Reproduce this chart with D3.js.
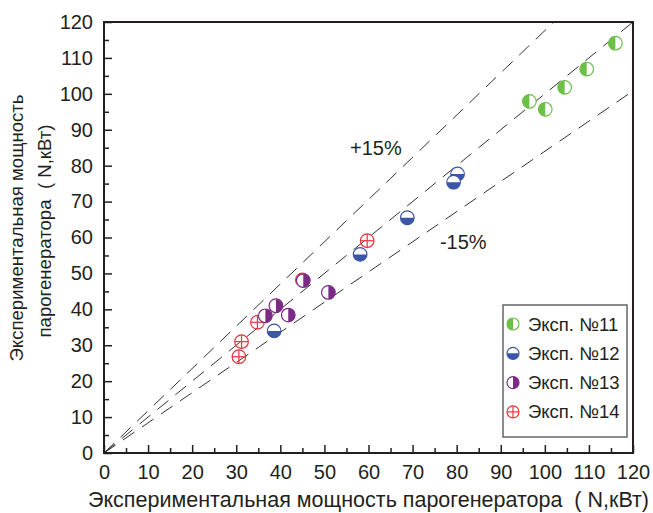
<!DOCTYPE html>
<html><head><meta charset="utf-8">
<script src="https://cdn.jsdelivr.net/npm/d3@7"></script>
<style>body{margin:0;background:#fff}svg{display:block}text{font-family:"Liberation Sans",Arial,sans-serif;fill:#231f20;white-space:pre}</style>
</head><body><svg id="c" width="653" height="513"></svg>
<script>
const seriesNames = ["Эксп. №11","Эксп. №12","Эксп. №13","Эксп. №14"];
const seriesColors = ["#6cbf47","#3b56a6","#7b2a86","#e8343a"];
const seriesStyle = ["left","bottom","right","cross"];
const s11x = [116.0,109.5,104.5,96.5,100.1];
const s11y = [114.1,106.9,101.8,97.9,95.7];
const s12x = [80.2,79.3,68.8,58.1,38.6];
const s12y = [77.7,75.4,65.5,55.3,34.0];
const s13x = [45.2,50.9,39.0,36.6,41.8];
const s13y = [48.0,44.7,41.0,38.2,38.4];
const s14x = [45.0,34.8,31.2,30.6,59.7];
const s14y = [48.2,36.4,31.0,26.8,59.1];
const lineSlopes = [1.176,1.0,0.84];
const xTicks = [0,10,20,30,40,50,60,70,80,90,100,110,120];
const yTicks = [0,10,20,30,40,50,60,70,80,90,100,110,120];
const minorTicks = [5,15,25,35,45,55,65,75,85,95,105,115];
const xTitle = "Экспериментальная мощность парогенератора  ( N,кВт)";
const yTitle1 = "Экспериментальная мощность";
const yTitle2 = "парогенератора  ( N,кВт)";
const labelPlus = "+15%", labelMinus = "-15%";

const svg = d3.select("#c");
const L=104,R=633,T=22,B=453;
const x = d3.scaleLinear().domain([0,120]).range([L,R]);
const y = d3.scaleLinear().domain([0,120]).range([B,T]);

svg.append("clipPath").attr("id","pc").append("rect").attr("x",L).attr("y",T).attr("width",R-L).attr("height",B-T);
svg.append("g").attr("clip-path","url(#pc)").selectAll("line").data(lineSlopes).join("line")
  .attr("x1",x(0)).attr("y1",y(0)).attr("x2",x(120)).attr("y2",k=>y(120*k))
  .attr("stroke","#333").attr("stroke-width",1).attr("stroke-dasharray","14,9");

const fsTick = 20, fsLeg = 18.5, fsTitle = 21.5;
svg.append("g").attr("transform",`translate(0,${B})`)
  .call(d3.axisBottom(x).tickValues(xTicks).tickSizeInner(-8).tickSizeOuter(0).tickPadding(12).tickFormat(d3.format("d")));
svg.append("g").attr("transform",`translate(0,${B})`)
  .call(d3.axisBottom(x).tickValues(minorTicks).tickSizeInner(-5).tickSizeOuter(0).tickFormat(""));
svg.append("g").attr("transform",`translate(${L},0)`)
  .call(d3.axisLeft(y).tickValues(yTicks).tickSizeInner(-8).tickSizeOuter(0).tickPadding(11).tickFormat(d3.format("d")));
svg.append("g").attr("transform",`translate(${L},0)`)
  .call(d3.axisLeft(y).tickValues(minorTicks).tickSizeInner(-5).tickSizeOuter(0).tickFormat(""));
svg.selectAll(".domain").remove();
svg.selectAll(".tick line").attr("stroke","#231f20").attr("stroke-width",1.5);
svg.selectAll(".tick text").attr("font-size",fsTick).attr("font-family","Liberation Sans, Arial, sans-serif").attr("fill","#231f20");

svg.append("rect").attr("x",L).attr("y",T).attr("width",R-L).attr("height",B-T)
  .attr("fill","none").attr("stroke","#231f20").attr("stroke-width",2);

svg.append("text").attr("x",x(55.8)).attr("y",y(83)).attr("font-size",fsTick).text(labelPlus);
svg.append("text").attr("x",x(76.2)).attr("y",y(56.8)).attr("font-size",fsTick).text(labelMinus);

function marker(g, style, color, r){
  if(style==="cross"){
    g.append("circle").attr("r",r).attr("fill","none").attr("stroke",color).attr("stroke-width",1.2);
    g.append("line").attr("x1",-r).attr("x2",r).attr("stroke",color).attr("stroke-width",1.2);
    g.append("line").attr("y1",-r).attr("y2",r).attr("stroke",color).attr("stroke-width",1.2);
    return;
  }
  g.append("circle").attr("r",r).attr("fill","#fff").attr("stroke",color).attr("stroke-width",1.2);
  let a0,a1;
  if(style==="left"){a0=Math.PI;a1=2*Math.PI;}
  else if(style==="right"){a0=0;a1=Math.PI;}
  else {a0=Math.PI/2;a1=3*Math.PI/2;}
  g.append("path").attr("d",d3.arc()({innerRadius:0,outerRadius:r,startAngle:a0,endAngle:a1})).attr("fill",color);
}
const sets = [[s11x,s11y,0],[s12x,s12y,1],[s14x,s14y,3],[s13x,s13y,2]];
sets.forEach(([xs,ys,i])=>{
  xs.forEach((v,j)=>{
    const g = svg.append("g").attr("transform",`translate(${x(v)},${y(ys[j])})`);
    marker(g, seriesStyle[i], seriesColors[i], 6.8);
  });
});

const lg = svg.append("g");
lg.append("rect").attr("x",503).attr("y",305).attr("width",124).attr("height",132)
  .attr("fill","#fff").attr("stroke","#666").attr("stroke-width",1.5);
seriesNames.forEach((n,i)=>{
  const cy = 324 + i*29.3;
  const g = lg.append("g").attr("transform",`translate(513,${cy})`);
  marker(g, seriesStyle[i], seriesColors[i], 6);
  lg.append("text").attr("x",528).attr("y",cy+6.5).attr("font-size",fsLeg).text(n);
});

svg.append("text").attr("x",88).attr("y",507).attr("font-size",fsTitle).text(xTitle);
svg.append("text").attr("transform","translate(23,228) rotate(-90)").attr("text-anchor","middle").attr("font-size",18.6).text(yTitle1);
svg.append("text").attr("transform","translate(51,231) rotate(-90)").attr("text-anchor","middle").attr("font-size",18.6).text(yTitle2);
</script></body></html>
